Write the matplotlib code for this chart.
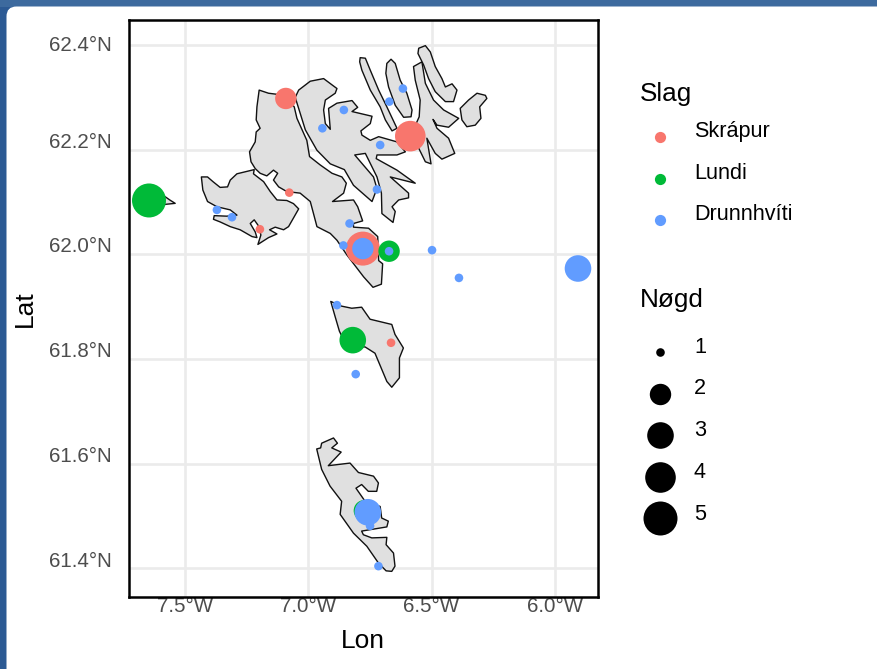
import matplotlib
matplotlib.use("Agg")
import matplotlib.pyplot as plt
from matplotlib.patches import Polygon, FancyBboxPatch, Rectangle
from matplotlib.transforms import ScaledTranslation

plt.rcParams['font.family'] = ['Liberation Sans', 'DejaVu Sans']

# ---- island outlines (lon, lat) ----
mykines = [(-7.600,62.112),(-7.578,62.110),(-7.560,62.104),(-7.538,62.0975),(-7.578,62.0956),(-7.600,62.096)]
vagar = [(-7.432,62.148),(-7.407,62.148),(-7.385,62.139),(-7.356,62.128),(-7.326,62.129),(-7.315,62.142),
         (-7.288,62.154),(-7.218,62.162),(-7.221,62.154),(-7.180,62.139),(-7.153,62.120),(-7.126,62.104),
         (-7.086,62.103),(-7.059,62.097),(-7.038,62.087),(-7.056,62.072),(-7.079,62.053),(-7.099,62.047),
         (-7.133,62.052),(-7.156,62.047),(-7.126,62.039),(-7.160,62.032),(-7.203,62.019),(-7.191,62.037),
         (-7.200,62.054),(-7.218,62.066),(-7.234,62.059),(-7.214,62.043),(-7.207,62.032),(-7.227,62.034),
         (-7.275,62.047),(-7.315,62.053),(-7.356,62.062),(-7.383,62.067),(-7.380,62.074),(-7.329,62.073),
         (-7.288,62.075),(-7.315,62.085),(-7.369,62.091),(-7.407,62.101),(-7.426,62.123)]
streymoy = [(-7.198,62.314),(-7.160,62.308),(-7.126,62.306),(-7.086,62.298),(-7.056,62.282),(-7.045,62.260),
            (-7.005,62.218),(-6.994,62.187),(-6.951,62.171),(-6.903,62.155),(-6.863,62.148),(-6.845,62.136),
            (-6.856,62.117),(-6.901,62.101),(-6.816,62.104),(-6.799,62.091),(-6.779,62.064),(-6.816,62.059),
            (-6.816,62.052),(-6.755,62.050),(-6.718,62.034),(-6.714,61.988),(-6.698,61.982),(-6.703,61.943),
            (-6.737,61.937),(-6.775,61.957),(-6.843,61.999),(-6.883,62.027),(-6.910,62.040),(-6.964,62.053),
            (-6.978,62.078),(-6.991,62.101),(-7.032,62.117),(-7.086,62.120),(-7.119,62.129),(-7.140,62.142),
            (-7.123,62.155),(-7.140,62.161),(-7.167,62.150),(-7.194,62.155),(-7.214,62.164),(-7.231,62.177),
            (-7.237,62.196),(-7.214,62.215),(-7.210,62.234),(-7.194,62.241),(-7.210,62.257),(-7.207,62.282)]
eysturoy = [(-7.038,62.314),(-6.991,62.331),(-6.937,62.336),(-6.903,62.324),(-6.883,62.317),(-6.890,62.308),
            (-6.930,62.295),(-6.937,62.276),(-6.930,62.250),(-6.910,62.239),(-6.917,62.279),(-6.883,62.289),
            (-6.822,62.294),(-6.799,62.281),(-6.822,62.273),(-6.741,62.264),(-6.748,62.250),(-6.786,62.236),
            (-6.782,62.228),(-6.748,62.218),(-6.714,62.225),(-6.640,62.215),(-6.606,62.196),(-6.640,62.190),
            (-6.721,62.190),(-6.724,62.183),(-6.640,62.161),(-6.566,62.136),(-6.667,62.148),(-6.593,62.117),
            (-6.593,62.108),(-6.633,62.104),(-6.660,62.091),(-6.647,62.082),(-6.656,62.061),(-6.701,62.078),
            (-6.703,62.117),(-6.721,62.148),(-6.768,62.193),(-6.811,62.190),(-6.735,62.148),(-6.721,62.126),
            (-6.741,62.101),(-6.816,62.132),(-6.853,62.162),(-6.910,62.173),(-6.964,62.199),(-7.011,62.238),
            (-7.040,62.282),(-7.052,62.300)]
kalsoy = [(-6.789,62.376),(-6.768,62.375),(-6.748,62.352),(-6.714,62.314),(-6.681,62.282),(-6.640,62.241),
          (-6.660,62.236),(-6.687,62.257),(-6.708,62.282),(-6.748,62.314),(-6.782,62.352),(-6.791,62.368)]
kunoy = [(-6.664,62.373),(-6.647,62.365),(-6.627,62.333),(-6.600,62.308),(-6.579,62.276),(-6.583,62.263),
         (-6.613,62.262),(-6.647,62.285),(-6.674,62.320),(-6.685,62.346),(-6.681,62.365)]
bordoy = [(-6.539,62.368),(-6.525,62.327),(-6.492,62.295),(-6.451,62.276),(-6.390,62.260),(-6.431,62.243),
          (-6.478,62.247),(-6.494,62.258),(-6.478,62.241),(-6.431,62.222),(-6.406,62.193),(-6.458,62.182),
          (-6.485,62.193),(-6.519,62.222),(-6.502,62.173),(-6.525,62.177),(-6.552,62.203),(-6.586,62.225),
          (-6.550,62.263),(-6.546,62.295),(-6.566,62.333),(-6.573,62.359)]
vidoy = [(-6.552,62.394),(-6.525,62.399),(-6.505,62.387),(-6.485,62.359),(-6.458,62.336),(-6.444,62.320),
         (-6.417,62.326),(-6.397,62.314),(-6.411,62.292),(-6.444,62.292),(-6.485,62.311),(-6.512,62.336),
         (-6.532,62.362),(-6.555,62.384)]
svinoy = [(-6.384,62.279),(-6.350,62.295),(-6.316,62.308),(-6.282,62.304),(-6.276,62.298),(-6.305,62.282),
          (-6.300,62.260),(-6.323,62.247),(-6.357,62.244),(-6.377,62.257)]
sandoy = [(-6.908,61.910),(-6.864,61.901),(-6.823,61.897),(-6.783,61.899),(-6.749,61.876),(-6.661,61.866),
          (-6.648,61.847),(-6.614,61.821),(-6.630,61.802),(-6.630,61.764),(-6.661,61.746),(-6.681,61.757),
          (-6.729,61.811),(-6.769,61.823),(-6.843,61.824),(-6.873,61.853),(-6.891,61.882)]
suduroy = [(-6.965,61.628),(-6.949,61.630),(-6.945,61.639),(-6.897,61.649),(-6.881,61.639),(-6.904,61.630),
           (-6.866,61.622),(-6.918,61.596),(-6.830,61.601),(-6.796,61.583),(-6.735,61.576),(-6.715,61.563),
           (-6.722,61.547),(-6.756,61.547),(-6.783,61.560),(-6.806,61.553),(-6.769,61.528),(-6.708,61.518),
           (-6.702,61.496),(-6.675,61.490),(-6.681,61.479),(-6.783,61.471),(-6.776,61.464),(-6.742,61.458),
           (-6.681,61.459),(-6.684,61.445),(-6.654,61.429),(-6.648,61.404),(-6.661,61.394),(-6.684,61.395),
           (-6.715,61.410),(-6.762,61.442),(-6.816,61.467),(-6.870,61.503),(-6.864,61.528),(-6.911,61.557),
           (-6.945,61.589)]
islands = [mykines, vagar, streymoy, eysturoy, kalsoy, kunoy, bordoy, vidoy, svinoy, sandoy, suduroy]

# ---- observations ----
skrapur_lon = [-7.090, -6.586, -7.076, -7.195, -6.778, -6.664]
skrapur_lat = [62.298, 62.226, 62.118, 62.048, 62.011, 61.831]
skrapur_n   = [2, 4, 1, 1, 5, 1]

lundi_lon = [-7.644, -6.672, -6.819, -6.772]
lundi_lat = [62.103, 62.006, 61.836, 61.510]
lundi_n   = [5, 2, 3, 2]

drunn_lon = [-7.369, -7.308, -6.855, -6.942, -6.671, -6.616, -6.708, -6.721, -6.832, -6.857,
             -6.672, -6.498, -6.389, -6.778, -6.883, -6.807, -6.758, -6.749, -6.715, -5.907]
drunn_lat = [62.085, 62.071, 62.276, 62.241, 62.292, 62.317, 62.209, 62.124, 62.059, 62.017,
             62.006, 62.008, 61.955, 62.011, 61.903, 61.771, 61.507, 61.481, 61.404, 61.973]
drunn_n   = [1, 1, 1, 1, 1, 1, 1, 1, 1, 1,
             1, 1, 1, 2, 1, 1, 3, 1, 1, 3]

species = ["Skrápur", "Lundi", "Drunnhvíti"]
colors = ["#F8766D", "#00BA38", "#619CFF"]
amounts = [1, 2, 3, 4, 5]
lon_ticks = [-7.5, -7.0, -6.5, -6.0]
lat_ticks = [61.4, 61.6, 61.8, 62.0, 62.2, 62.4]

# marker radius (pixels) per amount
radius = {1: 4.3, 2: 10.7, 3: 13.3, 4: 15.3, 5: 17.0}
W, H = 877, 669
def area(n):
    return (2 * radius[n] * 72 / 100) ** 2

fig = plt.figure(figsize=(W / 100, H / 100), dpi=100, facecolor="#2c5a94")

# window background: white sheet with rounded corner over a blue desktop
bg = fig.add_axes([0, 0, 1, 1], zorder=0)
bg.set_xlim(0, W); bg.set_ylim(H, 0); bg.axis("off")
bg.add_patch(Rectangle((0, 0), W, 6.5, fc="#3d6a9e", ec="none"))
bg.add_patch(FancyBboxPatch((6.5, 6.5), W + 40, H + 40, boxstyle="round,pad=0,rounding_size=10",
                            fc="white", ec="none"))

ax = fig.add_axes([129 / W, 1 - 597 / H, (598 - 129) / W, (597 - 20) / H], zorder=1)
ax.set_xlim(-7.725, -5.826)
ax.set_ylim(61.345, 62.448)
ax.set_facecolor("white")
ax.grid(True, color="#ebebeb", lw=1.9)
ax.set_axisbelow(True)

for poly in islands:
    ax.add_patch(Polygon(poly, closed=True, fc="#e0e0e0", ec="#111111", lw=1.0, joinstyle="round", zorder=2))

series = [(skrapur_lon, skrapur_lat, skrapur_n), (lundi_lon, lundi_lat, lundi_n), (drunn_lon, drunn_lat, drunn_n)]
for (xs, ys, ns), c in zip(series, colors):
    ax.scatter(xs, ys, s=[area(n) for n in ns], c=c, linewidths=0, zorder=3)

ax.set_xticks(lon_ticks)
ax.set_xticklabels([f"{abs(v):.1f}°W" for v in lon_ticks])
ax.set_yticks(lat_ticks)
ax.set_yticklabels([f"{v:.1f}°N" for v in lat_ticks])
ax.tick_params(axis="both", length=0, labelsize=14.8, labelcolor="#4d4d4d")
ax.tick_params(axis="x", pad=0)
ax.tick_params(axis="y", pad=12.5)
# the reference's latitude labels sit above their grid lines (pixels up)
lat_label_shift = [8.5, 9.5, 9.5, 9.5, 9.5, 2]
for lab, dy in zip(ax.get_yticklabels(), lat_label_shift):
    lab.set_transform(lab.get_transform() + ScaledTranslation(0, dy / 100, fig.dpi_scale_trans))
for s in ax.spines.values():
    s.set_linewidth(1.8)
    s.set_color("black")

ax.set_xlabel("Lon", fontsize=19, va="center")
ax.xaxis.set_label_coords(0.499, -(641 - 597) / (597 - 20))
ax.set_ylabel("Lat", fontsize=19, va="center")
ax.yaxis.set_label_coords(-(129 - 25) / (598 - 129), 0.5)

# legends, laid out in figure pixels
lg = fig.add_axes([0, 0, 1, 1], zorder=2)
lg.set_xlim(0, W); lg.set_ylim(H, 0); lg.axis("off")
lg.patch.set_alpha(0)
lg.text(640, 94, "Slag", fontsize=18.8, va="center", ha="left", color="black")
for name, c, ym, yt in zip(species, colors, [137, 178.7, 220.3], [132, 173.7, 215]):
    lg.scatter([660], [ym], s=(2 * 5.6 * 0.72) ** 2, c=c, linewidths=0)
    lg.text(694, yt, name, fontsize=15.6, va="center", ha="left", color="black")
lg.text(640, 300, "Nøgd", fontsize=18.8, va="center", ha="left", color="black")
for n, ym, yt in zip(amounts, [352, 393.7, 435, 476.7, 518], [347.7, 389, 431, 473, 514]):
    lg.scatter([660], [ym], s=area(n), c="black", linewidths=0)
    lg.text(694, yt, str(n), fontsize=15.6, va="center", ha="left", color="black")

fig.savefig("out.png", dpi=100, facecolor=fig.get_facecolor())
